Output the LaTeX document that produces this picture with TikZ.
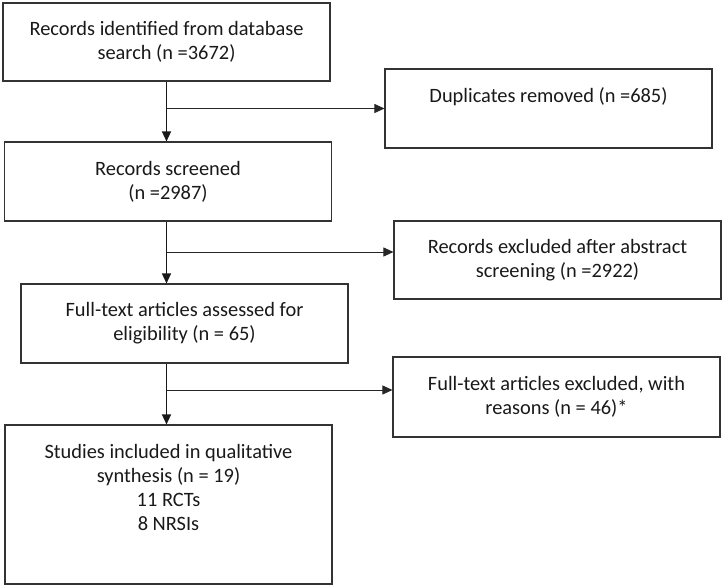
\documentclass[tikz,border=0pt]{standalone}
\usepackage{fontspec}
\setmainfont{Carlito}
\usetikzlibrary{arrows.meta}

\tikzset{
  box/.style={draw=black!80, line width=1.1pt, minimum width=327pt, inner sep=0pt,
    align=center, text=black!90, font=\fontsize{20.4}{24}\selectfont},
  arr/.style={draw=black!90, line width=1.3pt, -{Triangle[length=10pt,width=9pt]}},
  side/.style={draw=black!85, line width=0.8pt, -{Triangle[length=10pt,width=9pt]}},
}
\newcommand{\toptext}[2]{\parbox[c][#1][t]{327pt}{\centering\vspace*{19pt}#2}}

\begin{document}
\begin{tikzpicture}[x=1pt,y=-1pt]
  \useasboundingbox (0,0) rectangle (724,587);
  % main column
  \node[box, minimum height=78pt] (ident) at (166.5,42) {Records identified from database\\search (n =3672)};
  \node[box, minimum height=79pt] (screen) at (168,181.5) {Records screened\\(n =2987)};
  \node[box, minimum height=79pt] (full) at (184.5,323.5) {Full-text articles assessed for\\eligibility (n = 65)};
  \node[box] (incl) at (168.5,504.5) {\toptext{159pt}{Studies included in qualitative\\synthesis (n = 19)\\11 RCTs\\8 NRSIs}};
  % side boxes
  \node[box] (dup) at (548.5,108.5) {\toptext{79pt}{Duplicates removed (n =685)}};
  \node[box, minimum height=78pt] (absx) at (557.5,260) {Records excluded after abstract\\screening (n =2922)};
  \node[box, minimum height=80pt] (ftx) at (556.5,397) {Full-text articles excluded, with\\reasons (n = 46)*};
  % branch points
  \coordinate (b1) at (ident.south |- dup.west);
  \coordinate (b2) at (166.5,252);
  \coordinate (b3) at (166.5,390);
  % arrows
  \draw[arr] (ident.south) -- (ident.south |- screen.north);
  \draw[arr] (screen.south -| ident.south) -- (full.north -| ident.south);
  \draw[arr] (full.south -| ident.south) -- (incl.north -| ident.south);
  \draw[side] (b1) -- (dup.west);
  \draw[side] (b2) -- (b2 -| absx.west);
  \draw[side] (b3) -- (b3 -| ftx.west);
\end{tikzpicture}
\end{document}
